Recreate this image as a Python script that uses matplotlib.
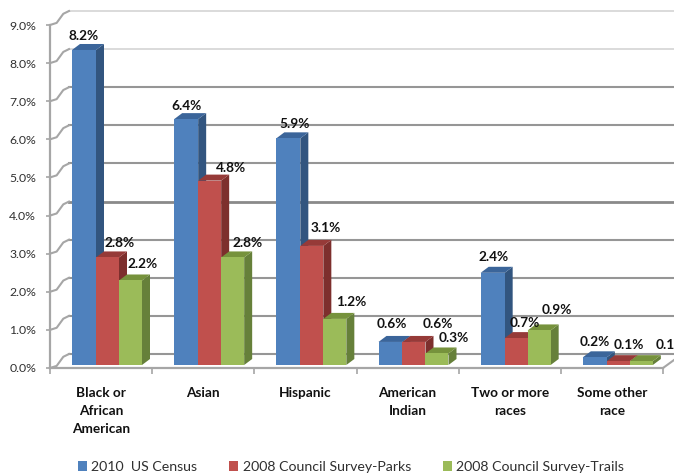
import matplotlib
matplotlib.use("Agg")
import matplotlib.pyplot as plt
from matplotlib.patches import Polygon, Patch

plt.rcParams['font.family'] = ['Lato', 'DejaVu Sans']

categories = ["Black or\nAfrican\nAmerican", "Asian", "Hispanic",
              "American\nIndian", "Two or more\nraces", "Some other\nrace"]
series_names = ["2010  US Census", "2008 Council Survey-Parks", "2008 Council Survey-Trails"]
census = [8.2, 6.4, 5.9, 0.6, 2.4, 0.2]
parks = [2.8, 4.8, 3.1, 0.6, 0.7, 0.1]
trails = [2.2, 2.8, 1.2, 0.3, 0.9, 0.1]
y_ticks = [0, 1, 2, 3, 4, 5, 6, 7, 8, 9]

# label nudges in pixels, relative to the top centre of each bar front
label_nudge = {
    0: [(0, 13.5), (12, 14), (12, 16)],
    1: [(0, 13), (21, 12.5), (15, 14)],
    2: [(6, 14), (14, 18), (16, 17)],
    3: [(1, 18), (24, 18), (17, 15)],
    4: [(1, 15.5), (9, 15), (18, 20)],
    5: [(0, 15), (10, 16), (29, 16)],
}

W, H = 674, 474
fig = plt.figure(figsize=(W / 100, H / 100), dpi=100, facecolor="white")
L, R, T, B = 50, 663, 25, 368
ax = fig.add_axes([L / W, 1 - B / H, (R - L) / W, (B - T) / H])
ax.set_xlim(0, 6)
ax.set_ylim(0, 9)
ax.patch.set_visible(False)
for s in ("top", "right"):
    ax.spines[s].set_visible(False)
GRAY = "#a6a6a6"
for s in ("left", "bottom"):
    ax.spines[s].set_color(GRAY)
    ax.spines[s].set_linewidth(1.6)

px = (R - L) / 6   # pixels per x unit
py = (B - T) / 9   # pixels per y unit
wall_dx, wall_dy = 19 / px, 14 / py

# back wall gridlines and diagonal wall ticks
for v in y_ticks:
    if v == 8 or v == 9:
        c, lw = "#d4d4d4", 1.2
    elif v == 4:
        c, lw = "#8a8a8a", 2.0
    else:
        c, lw = "#969696", 1.5
    ax.plot([wall_dx, 6.2], [v + wall_dy] * 2, color=c, lw=lw, clip_on=False, zorder=1)
    ax.plot([0, wall_dx * 0.35, wall_dx * 0.7, wall_dx], [v, v + wall_dy * 0.15, v + wall_dy * 0.8, v + wall_dy],
            color=GRAY, lw=1.5, clip_on=False, zorder=1)
ax.plot([6, 6 + 11 / px], [0, 8 / py], color=GRAY, lw=1.5, clip_on=False, zorder=1)

ax.set_yticks(y_ticks)
ax.set_yticklabels([f"{v:.1f}%" for v in y_ticks], fontsize=8.8, color="#303030")
ax.tick_params(axis="y", length=3, color=GRAY, width=1.2, pad=7)
ax.set_xticks([i + 0.5 for i in range(6)])
ax.set_xticklabels(categories, fontsize=9.8, fontweight="bold", color="#111111", linespacing=1.62)
ax.tick_params(axis="x", which="major", length=0, pad=13.5)
ax.set_xticks(range(7), minor=True)
ax.tick_params(axis="x", which="minor", length=4, color=GRAY, width=1.2)

colors = [("#4F81BD", "#32557F", "#3B659A"),
          ("#C0504D", "#7D2F2D", "#963A38"),
          ("#9BBB59", "#66803A", "#76923C")]
bar_x = [22 / px, 46 / px, 69 / px]
bar_w = [24 / px, 23 / px, 23 / px]
base = 3 / py
dx, dy = 8 / px, 6 / py
stretch = 1.008

for i in range(len(categories)):
    for j, vals in enumerate((census, parks, trails)):
        v = vals[i]
        x0 = i + bar_x[j]
        x1 = x0 + bar_w[j]
        y0, y1 = base, base + v * stretch
        front, side, top = colors[j]
        z = 3 + i * 3 + j
        ax.add_patch(Polygon([(x1, y0), (x1 + dx, y0 + dy), (x1 + dx, y1 + dy), (x1, y1)],
                             fc=side, ec="none", zorder=z, clip_on=False))
        ax.add_patch(Polygon([(x0, y1), (x0 + dx, y1 + dy), (x1 + dx, y1 + dy), (x1, y1)],
                             fc=top, ec="none", zorder=z, clip_on=False))
        ax.bar(x0, v * stretch, width=bar_w[j], bottom=y0, align="edge", color=front, zorder=z + 0.5, clip_on=False)
        nx, ny = label_nudge[i][j]
        ax.annotate(f"{v:.1f}%", (x0 + bar_w[j] / 2, y1), xytext=(nx * 0.72, ny * 0.72),
                    textcoords="offset points", ha="center", va="center",
                    fontsize=9.8, fontweight="bold", color="#111111", zorder=50,
                    annotation_clip=False)

handles = [Patch(fc=colors[k][0], ec="none") for k in range(3)]
fig.legend(handles, series_names, ncol=3, loc="center", bbox_to_anchor=(351 / W, 1 - 467 / H),
           frameon=False, fontsize=10.2, handlelength=0.65, handleheight=0.65, handletextpad=0.3,
           columnspacing=2.25, labelcolor="#303030", borderpad=0, borderaxespad=0)

fig.savefig("out.png", dpi=100, facecolor="white")
